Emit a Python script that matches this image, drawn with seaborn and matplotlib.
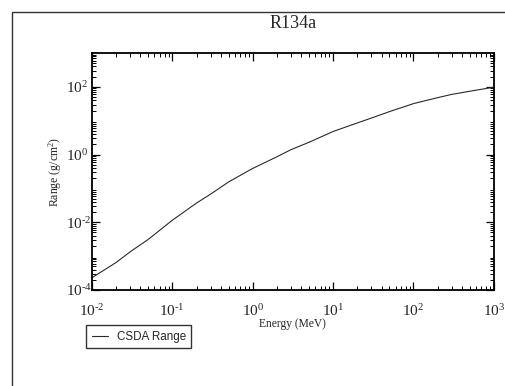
import numpy as np
import pandas as pd
import matplotlib
matplotlib.use("Agg")
import matplotlib.pyplot as plt
import seaborn as sns
from matplotlib.patches import Rectangle
from matplotlib.ticker import LogLocator, FixedLocator, NullFormatter, FuncFormatter

# CSDA range for R134a
energy_mev = [0.01, 0.02, 0.03, 0.05, 0.1, 0.2, 0.3, 0.5, 1, 2, 3, 5, 10, 20, 30, 50,
              100, 200, 300, 500, 1000]
csda_range = [2.3e-4, 6.5e-4, 1.35e-3, 3.1e-3, 1.15e-2, 3.7e-2, 6.8e-2, 1.55e-1, 0.39,
              0.86, 1.4, 2.3, 4.8, 8.6, 12.0, 18.5, 32.0, 48.0, 60.0, 74.0, 98.0]

title = "R134a"
series_name = "CSDA Range"
ytick_vals = [1e-4, 1e-2, 1e0, 1e2]

sns.set_style("ticks")
plt.rcParams["font.family"] = ["Liberation Serif", "DejaVu Serif"]
plt.rcParams["mathtext.fontset"] = "custom"
plt.rcParams["mathtext.rm"] = "Liberation Serif"
plt.rcParams["mathtext.it"] = "Liberation Serif:italic"


def pow10(v, pos):
    # grace-style labels: 10 with a hyphen in the exponent
    e = int(round(np.log10(v)))
    s = str(e).replace("-", "\u2010")
    return f"$10^{{{s}}}$"


df = pd.DataFrame({"Energy": energy_mev, "Range": csda_range, "series": series_name})

fig = plt.figure(figsize=(5.05, 3.86), dpi=100)
ax = fig.add_axes([0.182, 0.2487, 0.796, 0.614])

sns.lineplot(data=df, x="Energy", y="Range", hue="series", palette=["#2a2a2a"],
             linewidth=0.8, ax=ax, legend=True)

ax.set_xscale("log")
ax.set_yscale("log")
ax.set_xlim(1e-2, 1e3)
ax.set_ylim(1e-4, 1e3)

ax.xaxis.set_major_locator(LogLocator(base=10, numticks=10))
ax.yaxis.set_major_locator(FixedLocator(ytick_vals))
ax.xaxis.set_major_formatter(FuncFormatter(pow10))
ax.yaxis.set_major_formatter(FuncFormatter(pow10))
ax.xaxis.set_minor_locator(LogLocator(base=10, subs=np.arange(2, 10), numticks=20))
ax.yaxis.set_minor_locator(LogLocator(base=10, subs=np.arange(2, 10), numticks=20))
ax.xaxis.set_minor_formatter(NullFormatter())
ax.yaxis.set_minor_formatter(NullFormatter())

for side in ["top", "right", "left", "bottom"]:
    ax.spines[side].set_visible(True)
    ax.spines[side].set_linewidth(1.3)
    ax.spines[side].set_color("black")

ax.tick_params(which="both", direction="in", top=True, right=True, color="black")
ax.tick_params(which="major", length=6, width=0.9, labelsize=11)
ax.tick_params(which="minor", length=3, width=0.7)
ax.tick_params(axis="x", which="major", pad=9.5)
ax.tick_params(axis="y", which="major", pad=19)

ax.set_xlabel("Energy (MeV)", fontsize=8.3, labelpad=-1)
ax.set_ylabel("Range (g/cm$^2$)", fontsize=8.5, labelpad=1)
ax.set_title(title, fontsize=13, pad=18)

leg = ax.legend(loc="upper left", bbox_to_anchor=(-0.028, -0.125), frameon=True,
                fancybox=False, edgecolor="black", handlelength=1.4, handletextpad=0.75,
                borderpad=0.45, prop={"family": "Liberation Sans", "size": 8.4})
leg.get_frame().set_linewidth(1.0)
for line in leg.get_lines():
    line.set_linewidth(0.8)

fig.canvas.draw()
for lbl in ax.get_yticklabels():
    lbl.set_horizontalalignment("left")

# outer page frame
fig.patches.append(Rectangle((12 / 505, -0.1), 1.2, 1.1 - 12 / 386, fill=False,
                             edgecolor="#333333", linewidth=1.0,
                             transform=fig.transFigure, clip_on=False))

fig.savefig("out.png", dpi=100)
